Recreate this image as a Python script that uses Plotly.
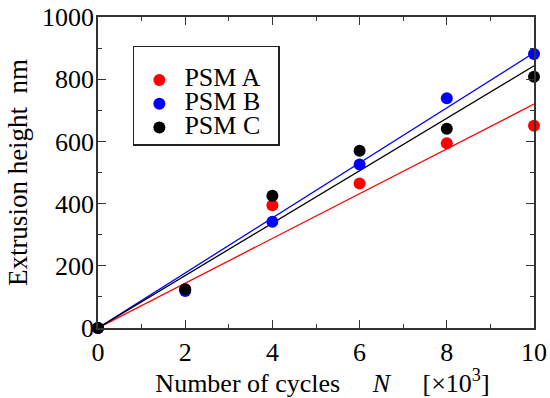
import plotly.graph_objects as go

cycles = [0, 2, 4, 6, 8, 10]
psm_a = [0, 125, 395, 465, 594, 650]
psm_b = [0, 119, 342, 526, 739, 881]
psm_c = [0, 125, 425, 570, 641, 808]

fit_x = [0, 10]
fit_a = [0, 720]
fit_b = [0, 885]
fit_c = [0, 843]

names = ["PSM A", "PSM B", "PSM C"]
colors = ["#ff0000", "#0000ff", "#000000"]

fig = go.Figure()
for fy, c in zip([fit_a, fit_b, fit_c], colors):
    fig.add_trace(go.Scatter(x=fit_x, y=fy, mode="lines", line=dict(color=c, width=1.3),
                             showlegend=False, hoverinfo="skip", cliponaxis=False))
for ys, n, c in zip([psm_a, psm_b, psm_c], names, colors):
    fig.add_trace(go.Scatter(x=cycles, y=ys, mode="markers",
                             name=f"<span style='font-size:26px'>{n}&nbsp;&nbsp;</span>",
                             marker=dict(color=c, size=12), cliponaxis=False))

font = "Liberation Serif, Times New Roman, serif"
axis_common = dict(showline=True, linecolor="#333333", linewidth=1.5, mirror="allticks",
                   ticks="inside", ticklen=8, tickwidth=1.3, tickcolor="#333333",
                   showgrid=False, zeroline=False, automargin=False,
                   tickfont=dict(family=font, size=26, color="black"))

fig.update_layout(
    width=550, height=398,
    margin=dict(l=98, r=16, t=17, b=70),
    paper_bgcolor="white", plot_bgcolor="white",
    font=dict(family=font, color="black"),
    xaxis=dict(range=[0, 10], dtick=2, tick0=0,
               minor=dict(dtick=1, ticks="inside", ticklen=4, tickwidth=1.3, tickcolor="#333333"),
               title=dict(text="&nbsp;&nbsp;Number of cycles &nbsp;&nbsp;&nbsp; <i>N</i> &nbsp;&nbsp;&nbsp; [×10<sup>3</sup>]",
                          font=dict(family=font, size=26), standoff=4),
               ticklabelstandoff=0,
               **axis_common),
    yaxis=dict(range=[0, 1000], dtick=200, tick0=0,
               minor=dict(dtick=100, ticks="inside", ticklen=4, tickwidth=1.3, tickcolor="#333333"),
               title=dict(text="Extrusion height &nbsp;nm", font=dict(family=font, size=27), standoff=7),
               ticklabelstandoff=-3,
               **axis_common),
    legend=dict(x=0.08, y=0.907, xanchor="left", yanchor="top",
                bgcolor="white", bordercolor="#222222", borderwidth=1.5,
                font=dict(family=font, size=16, color="black"),
                title=dict(text=" ", font=dict(size=12)),
                itemwidth=40,
                tracegroupgap=0, itemsizing="constant"),
    showlegend=True,
)

fig.write_html("out.html", config={"displayModeBar": False},
               post_script="document.body.style.margin='0';document.body.style.overflow='hidden';")
